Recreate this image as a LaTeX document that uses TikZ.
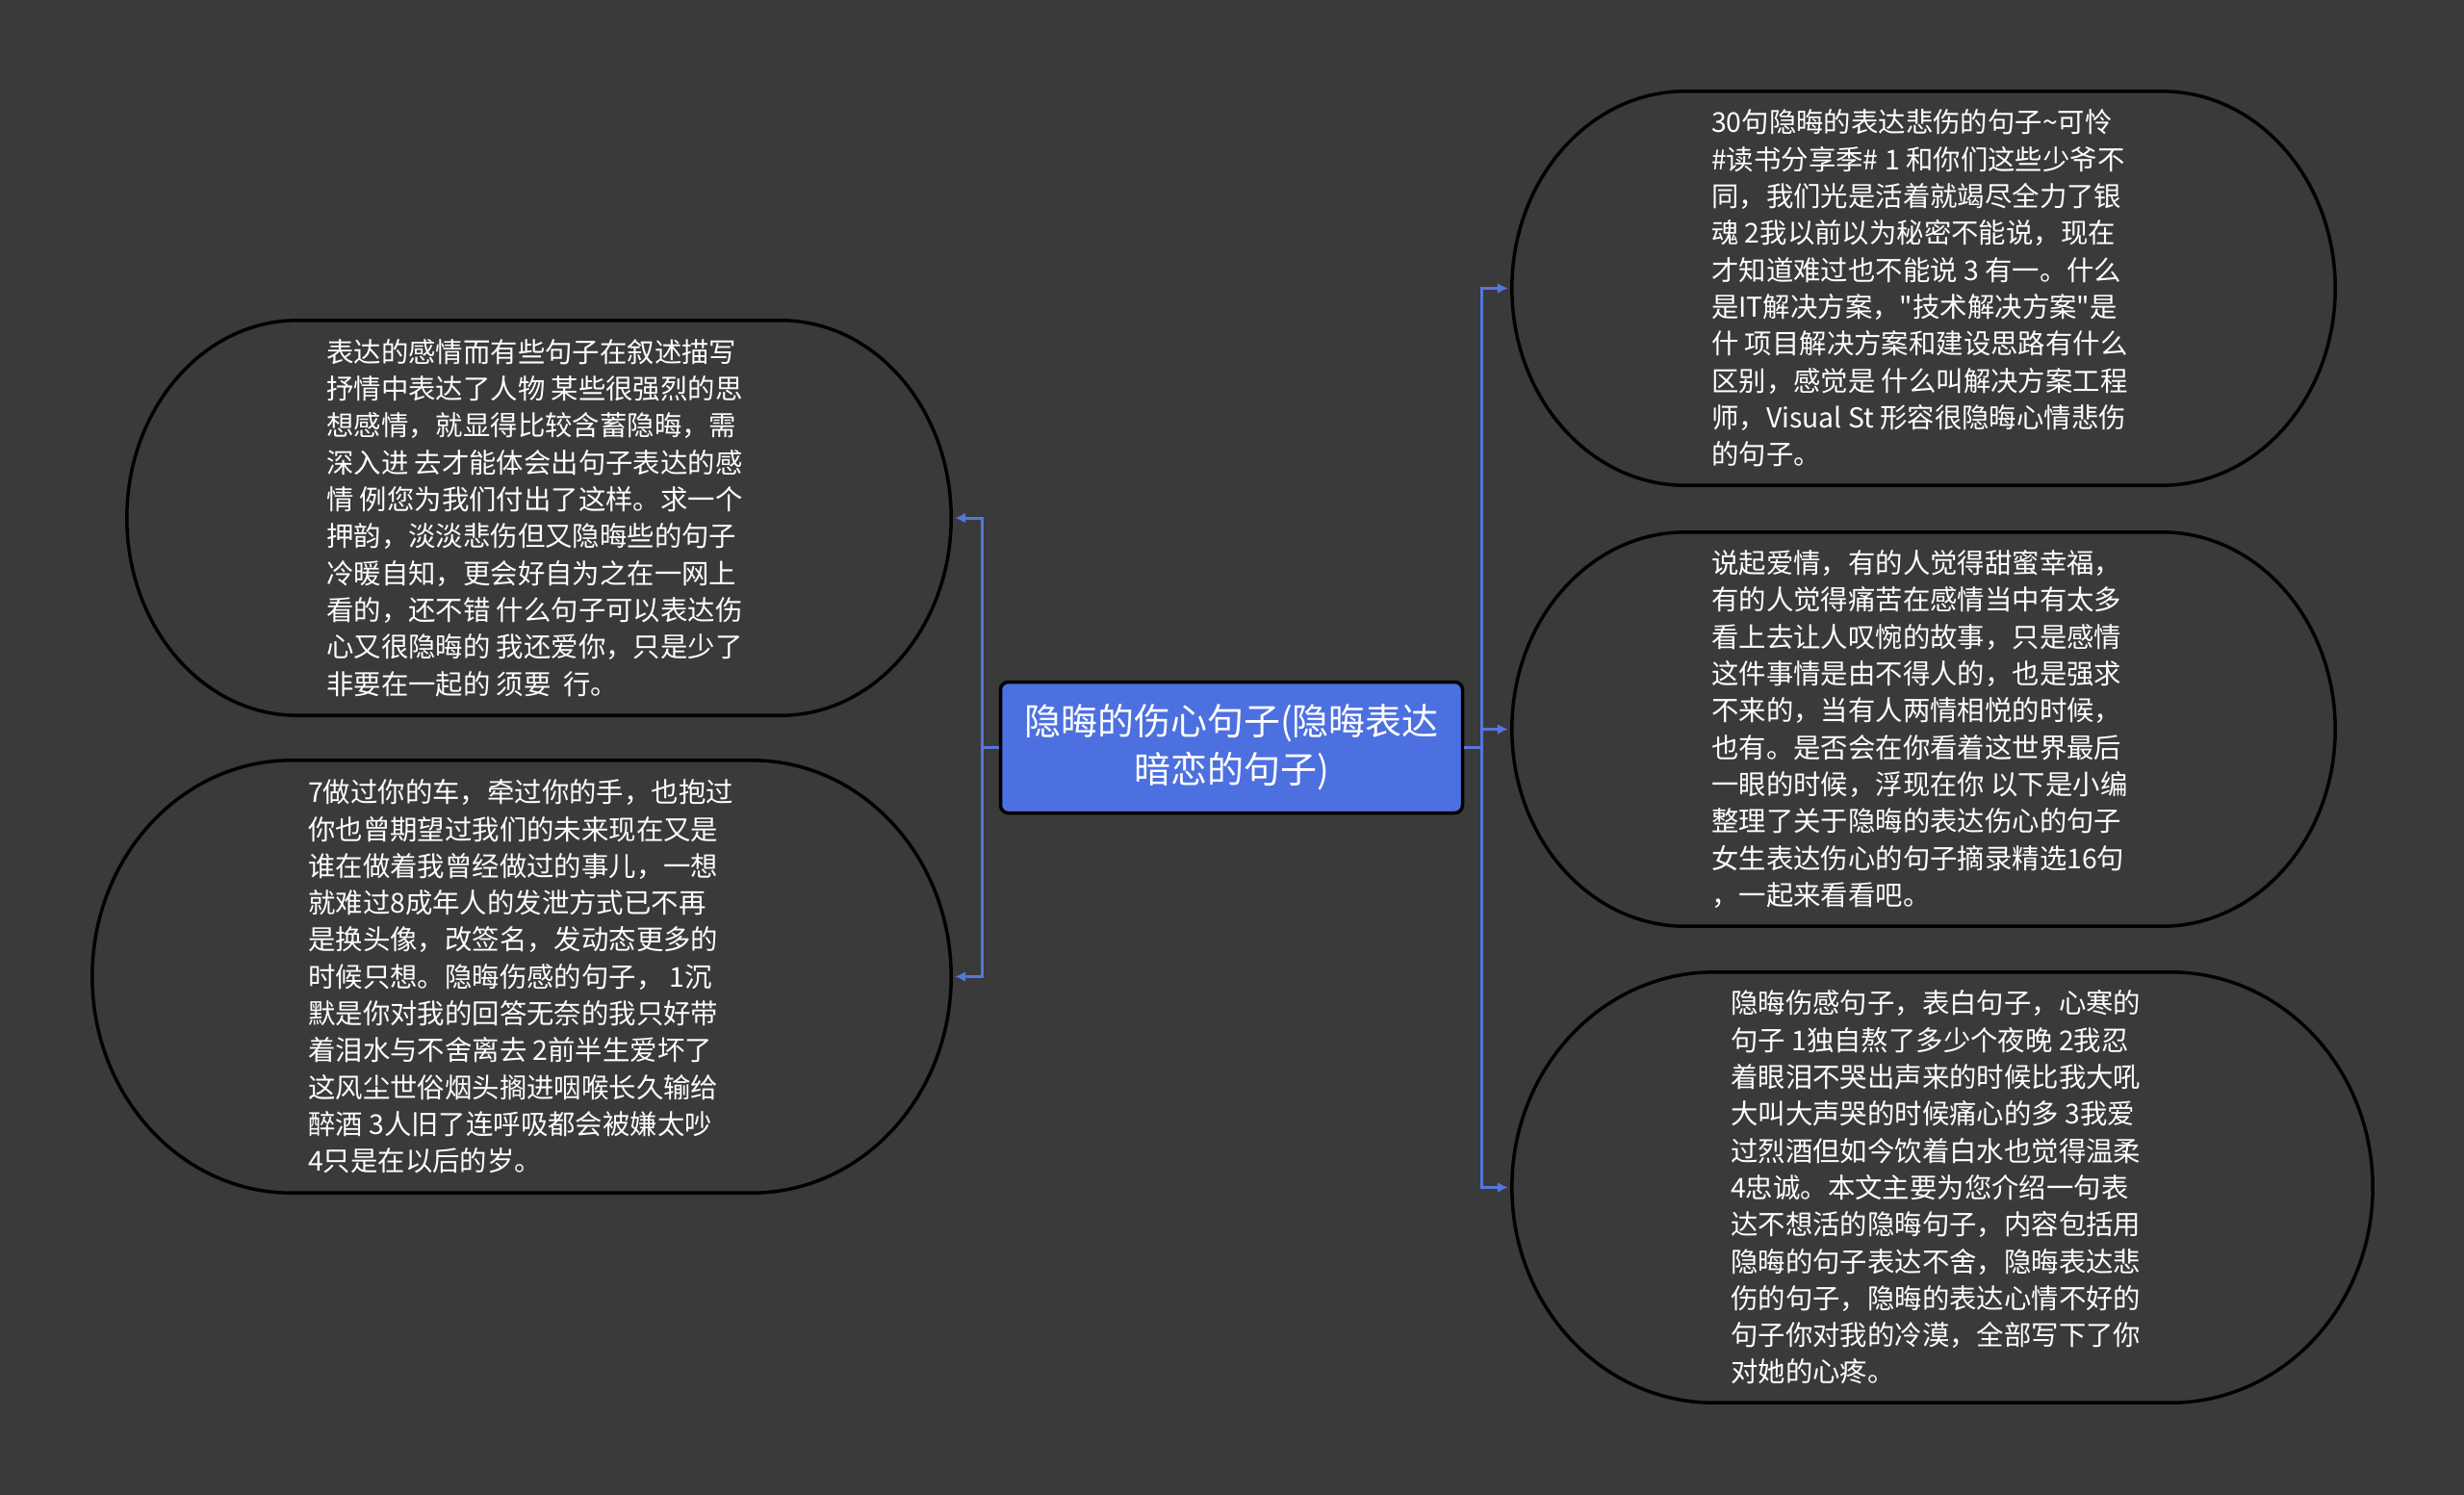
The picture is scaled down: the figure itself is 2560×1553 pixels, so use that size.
\documentclass[tikz,border=0pt]{standalone}
\usepackage{fontspec}
\setmainfont{Noto Sans CJK SC}
\usetikzlibrary{arrows.meta,calc}
\definecolor{bgc}{RGB}{58,58,58}
\definecolor{boxblue}{RGB}{77,112,224}
\definecolor{linkc}{RGB}{85,118,222}
\tikzset{
  holder/.style={draw=none, rectangle, inner sep=0pt},
  txt/.style={text=white, align=left, inner sep=0pt, anchor=west, font=\fontsize{28.4}{38.3}\selectfont},
  conn/.style={draw=linkc, line width=3pt, -{Latex[length=11pt,width=11pt]}, shorten >=4pt},
  trunk/.style={draw=linkc, line width=3pt},
  outl/.style={draw=black, line width=3.5pt},
  topic/.style={draw=black, line width=3.5pt, fill=boxblue, rounded corners=8pt, text=white, align=center, inner sep=0pt, font=\fontsize{38}{50}\selectfont},
}
\newcommand{\stadium}[2]{%
  \draw[outl] let \p1=(#1.north west), \p2=(#1.south east), \n1={(\y1-\y2)/2} in
   (\x1+#2pt,\y1) -- (\x2-#2pt,\y1)
   arc[start angle=90,end angle=-90,x radius=#2pt,y radius={\n1*1pt}]
   -- (\x1+#2pt,\y2)
   arc[start angle=270,end angle=90,x radius=#2pt,y radius={\n1*1pt}] -- cycle;}
\begin{document}
\begin{tikzpicture}[x=1pt,y=-1pt]
\fill[bgc] (0,0) rectangle (2560,1553);
\useasboundingbox (0,0) rectangle (2560,1553);

\node[holder, minimum width=856pt, minimum height=410pt] (l1) at (560,538) {};
\node[holder, minimum width=892pt, minimum height=449pt] (l2) at (542,1014.5) {};
\node[holder, minimum width=855pt, minimum height=409pt] (r1) at (1998.5,299.5) {};
\node[holder, minimum width=855pt, minimum height=409pt] (r2) at (1998.5,757.5) {};
\node[holder, minimum width=894pt, minimum height=447pt] (r3) at (2018,1233.5) {};

\stadium{l1}{177}
\stadium{l2}{207}
\stadium{r1}{180}
\stadium{r2}{180}
\stadium{r3}{210}

\node[txt] (l1t) at (339,538) {表达的感情而有些句子在叙述描写\\抒情中表达了人物 某些很强烈的思\\想感情，就显得比较含蓄隐晦，需\\深入进 去才能体会出句子表达的感\\情 例您为我们付出了这样。求一个\\押韵，淡淡悲伤但又隐晦些的句子\\冷暖自知，更会好自为之在一网上\\看的，还不错 什么句子可以表达伤\\心又很隐晦的 我还爱你，只是少了\\非要在一起的 须要\ \ 行。};

\node[txt] (l2t) at (320,1014.5) {7做过你的车，牵过你的手，也抱过\\你也曾期望过我们的未来现在又是\\谁在做着我曾经做过的事儿，一想\\就难过8成年人的发泄方式已不再\\是换头像，改签名，发动态更多的\\时候只想。隐晦伤感的句子， 1沉\\默是你对我的回答无奈的我只好带\\着泪水与不舍离去 2前半生爱坏了\\这风尘世俗烟头搁进咽喉长久输给\\醉酒 3人旧了连呼吸都会被嫌太吵\\4只是在以后的岁。};

\node[txt] (r1t) at (1778,299.5) {30句隐晦的表达悲伤的句子\textasciitilde 可怜\\\#读书分享季\# 1 和你们这些少爷不\\同，我们光是活着就竭尽全力了银\\魂 2我以前以为秘密不能说，现在\\才知道难过也不能说 3 有一。什么\\是IT解决方案，\textquotedbl 技术解决方案\textquotedbl 是\\什 项目解决方案和建设思路有什么\\区别，感觉是 什么叫解决方案工程\\师，Visual St 形容很隐晦心情悲伤\\的句子。};

\node[txt] (r2t) at (1778,757.5) {说起爱情，有的人觉得甜蜜幸福，\\有的人觉得痛苦在感情当中有太多\\看上去让人叹惋的故事，只是感情\\这件事情是由不得人的，也是强求\\不来的，当有人两情相悦的时候，\\也有。是否会在你看着这世界最后\\一眼的时候，浮现在你 以下是小编\\整理了关于隐晦的表达伤心的句子\\女生表达伤心的句子摘录精选16句\\，一起来看看吧。};

\node[txt] (r3t) at (1798,1233.5) {隐晦伤感句子，表白句子，心寒的\\句子 1独自熬了多少个夜晚 2我忍\\着眼泪不哭出声来的时候比我大吼\\大叫大声哭的时候痛心的多 3我爱\\过烈酒但如今饮着白水也觉得温柔\\4忠诚。本文主要为您介绍一句表\\达不想活的隐晦句子，内容包括用\\隐晦的句子表达不舍，隐晦表达悲\\伤的句子，隐晦的表达心情不好的\\句子你对我的冷漠，全部写下了你\\对她的心疼。};

\node[topic, minimum width=480pt, minimum height=136pt] (c) at (1279.5,776.5) {隐晦的伤心句子(隐晦表达\\暗恋的句子)};

\coordinate (lj) at (1020,776.5);
\coordinate (rj) at (1539,776.5);
\draw[trunk] (c.west) -- (lj);
\draw[trunk] (c.east) -- (rj);
\draw[conn] (lj) |- (l1.east);
\draw[conn] (lj) |- (l2.east);
\draw[conn] (rj) |- (r1.west);
\draw[conn] (rj) |- (r2.west);
\draw[conn] (rj) |- (r3.west);
\end{tikzpicture}
\end{document}
